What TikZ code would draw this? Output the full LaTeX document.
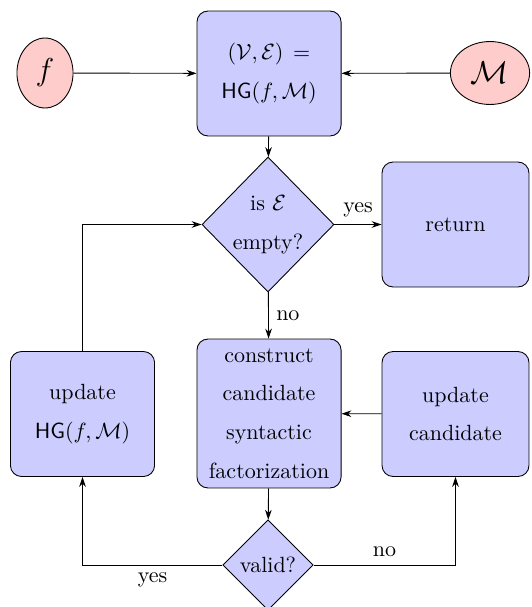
\documentclass[tikz,border=0pt]{standalone}
\usetikzlibrary{shapes.geometric,arrows.meta}
\begin{document}
\begin{tikzpicture}[x=0.4545pt,y=-0.4545pt,
  every node/.style={font=\fontsize{10}{17.6}\selectfont},
  box/.style={draw, rectangle, rounded corners=5pt, fill=blue!20, align=center,
    minimum width=65.5pt, minimum height=56.8pt, inner sep=2pt},
  dec/.style={draw, diamond, fill=blue!20, align=center, inner sep=0pt},
  inp/.style={draw, ellipse, fill=red!20, inner sep=0pt, font=\Large},
  arr/.style={-{Stealth[length=4.5pt,width=3pt]}, line width=0.4pt},
  lbl/.style={font=\fontsize{10}{12}\selectfont}]
\useasboundingbox (0,0) rectangle (531,607);
\node[inp, minimum width=25.5pt, minimum height=31.8pt] (f) at (45,73) {$f$};
\node[inp, minimum width=36pt, minimum height=28.6pt] (M) at (490,73) {$\mathcal{M}$};
\node[box] (hg) at (269,73.5) {$(\mathcal{V},\mathcal{E})\,=$\\$\mathsf{HG}(f,\mathcal{M})$};
\node[dec, minimum width=60pt, minimum height=61.4pt] (empty) at (268,224.5) {is $\mathcal{E}$\\empty?};
\node[box, minimum width=66.8pt] (ret) at (455.5,224.5) {return};
\node[box, minimum height=67.7pt] (cons) at (269,413.5) {construct\\candidate\\syntactic\\factorization};
\node[box] (uhg) at (82.5,414) {update\\$\mathsf{HG}(f,\mathcal{M})$};
\node[box, minimum width=66.8pt] (ucand) at (455.5,414) {update\\candidate};
\node[dec, minimum width=41pt, minimum height=41pt] (valid) at (268,565) {valid?};
\draw[arr] (f) -- (hg);
\draw[arr] (M) -- (hg);
\draw[arr] (hg) -- (empty);
\draw[arr] (empty) -- node[lbl, above] {yes} (ret);
\draw[arr] (empty) -- node[lbl, right, pos=0.5] {no} (cons);
\draw[arr] (ucand) -- (cons);
\draw[arr] (cons) -- (valid);
\draw[arr] (valid) -| node[lbl, below, pos=0.25] {yes} (uhg);
\draw[arr] (valid) -| node[lbl, above, pos=0.25] {no} (ucand);
\draw[arr] (uhg) |- (empty);
\end{tikzpicture}
\end{document}
